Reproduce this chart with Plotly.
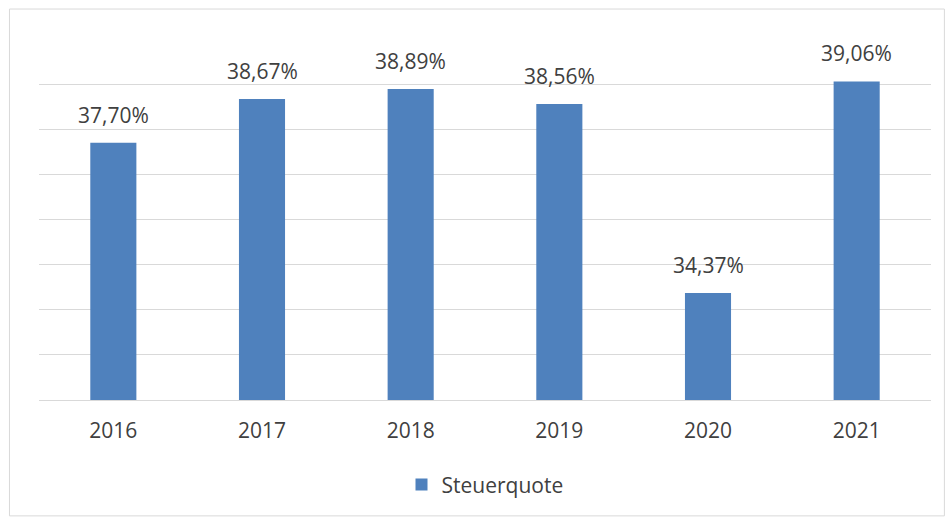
import plotly.graph_objects as go

years = ["2016", "2017", "2018", "2019", "2020", "2021"]
steuerquote = [37.70, 38.67, 38.89, 38.56, 34.37, 39.06]
series_name = "Steuerquote"

FONT = "Open Sans"
TXT = "#404040"
FS = 21

fig = go.Figure()
fig.add_trace(go.Bar(
    x=years, y=steuerquote, name=series_name,
    marker=dict(color="#4f81bd", line=dict(width=0)),
    showlegend=True,
))

for i, v in enumerate(steuerquote):
    fig.add_annotation(x=i, y=v, xref="x", yref="y",
                       text=f"{v:.2f}".replace(".", ",") + "%",
                       showarrow=False, yanchor="bottom", yshift=12,
                       font=dict(family=FONT, size=FS, color=TXT))

fig.update_layout(
    width=948, height=519,
    margin=dict(l=39, r=17, t=39, b=119),
    paper_bgcolor="white", plot_bgcolor="white",
    bargap=0.69,
    font=dict(family=FONT, size=FS, color=TXT),
    showlegend=True,
    legend=dict(orientation="h", x=0.5, xanchor="center", y=-0.235, yanchor="middle",
                font=dict(family=FONT, size=FS, color=TXT), itemwidth=30),
    xaxis=dict(type="category", range=[-0.5, len(years) - 0.5],
               showgrid=False, showline=True, linecolor="#d9d9d9", linewidth=1,
               ticks="", ticklabelstandoff=12,
               tickfont=dict(family=FONT, size=FS, color=TXT)),
    yaxis=dict(range=[32, 40], dtick=1, showgrid=True, gridcolor="#d9d9d9", gridwidth=1,
               showticklabels=False, zeroline=False, showline=False),
    shapes=[dict(type="rect", xref="paper", yref="paper",
                 x0=-0.0331, x1=1.015, y0=-0.321, y1=1.083,
                 line=dict(color="#d9d9d9", width=1), fillcolor="rgba(0,0,0,0)", layer="below")],
)

fig.write_html("out.html")
